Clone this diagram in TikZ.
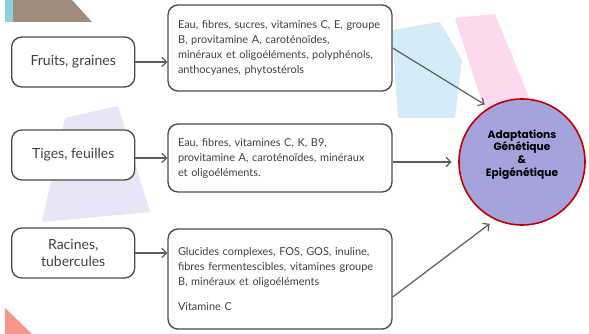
\documentclass[tikz,border=0pt]{standalone}
\usepackage{fontspec}
\setmainfont{Lato}
\newfontfamily\circfont{Poppins}
\usetikzlibrary{positioning}
\usetikzlibrary{arrows.meta}

\definecolor{txtgray}{HTML}{404040}
\definecolor{boxgray}{HTML}{4A4A4A}
\definecolor{arrgray}{HTML}{5E5E5E}
\definecolor{circfill}{HTML}{A4A3DC}
\definecolor{circred}{HTML}{C00000}
\definecolor{bglav}{HTML}{E8E5F6}
\definecolor{bgblue}{HTML}{D4ECF8}
\definecolor{bgpink}{HTML}{FBDAEE}
\definecolor{bgteal}{HTML}{88D4DC}
\definecolor{bgbrown}{HTML}{A08C7C}
\definecolor{bgsalmon}{HTML}{F49688}

\tikzset{
  srcbox/.style={draw=boxgray, line width=1pt, rounded corners=7.5pt, fill=white,
    minimum width=92.25pt, minimum height=37.5pt, align=center, text=txtgray,
    font=\fontsize{10.5}{12.5}\selectfont},
  nutbox/.style={draw=boxgray, line width=1pt, rounded corners=7.5pt, fill=white,
    text width=153pt, inner xsep=7.5pt, align=left, text=txtgray,
    font=\fontsize{8.2}{11.25}\selectfont},
  flow/.style={draw=arrgray, line width=0.9pt, -{Straight Barb[length=3.5pt,width=7pt]}}
}

\begin{document}
\begin{tikzpicture}[x=0.75pt, y=-0.75pt]
\useasboundingbox (0,0) rectangle (589,334);
% faded background
\fill[white] (0,0) rectangle (589,334);
\fill[bglav] (65,118) -- (118,106) -- (150,212) -- (42,222) -- cycle;
\fill[bgblue] (392,30) -- (440,22) -- (462,60) -- (455,118) -- (398,118) -- cycle;
\fill[bgpink] (455,18) -- (495,14) -- (530,100) -- (485,112) -- cycle;
\fill[bgteal] (5,0) rectangle (13,22);
\fill[bgbrown] (13,0) -- (72,0) -- (92,22) -- (13,22) -- cycle;
\fill[bgsalmon] (5,308) -- (32,334) -- (5,334) -- cycle;

% nutrient boxes
\node[nutbox, minimum height=64.5pt] (fruitnut) at (280,48) {%
  Eau, fibres, sucres, vitamines C, E, groupe\\
  B, provitamine A, caroténoïdes,\\
  minéraux et oligoéléments, polyphénols,\\
  anthocyanes, phytostérols};
\node[nutbox, minimum height=51pt] (tigenut) at (280,158) {%
  Eau, fibres, vitamines C, K, B9,\\
  provitamine A, caroténoïdes, minéraux\\
  et oligoéléments.};
\node[nutbox, minimum height=75pt] (racinenut) at (280,279) {%
  Glucides complexes, FOS, GOS, inuline,\\
  fibres fermentescibles, vitamines groupe\\
  B, minéraux et oligoéléments\\[7.5pt]
  Vitamine C};

% plant parts
\node[srcbox, left=24pt of fruitnut, yshift=-10.5pt] (fruit) {Fruits, graines};
\node[srcbox, left=24pt of tigenut, yshift=2.25pt] (tige) {Tiges, feuilles};
\node[srcbox, left=24pt of racinenut, yshift=19.5pt] (racine) {Racines,\\tubercules};

% outcome
\node[circle, draw=circred, line width=1.2pt, fill=circfill, minimum size=94.5pt,
  align=center, text=black, font=\circfont\bfseries\fontsize{8}{9.5}\selectfont]
  (adapt) at (522,162) {Adaptations\\Génétique\\\&\\Epigénétique\\[4pt]};

\draw[flow] (fruit.east) -- (fruit.east -| fruitnut.west);
\draw[flow] (tige.east |- tigenut.west) -- (tigenut.west);
\draw[flow] (racine.east) -- (racine.east -| racinenut.west);
\draw[flow, shorten >=4pt] (fruitnut.east) -- (adapt.121);
\draw[flow, shorten >=5pt] (tigenut.east |- adapt.west) -- (adapt.west);
\draw[flow, shorten >=5pt] ([yshift=-13.5pt]racinenut.east) -- (adapt.245);
\end{tikzpicture}
\end{document}
